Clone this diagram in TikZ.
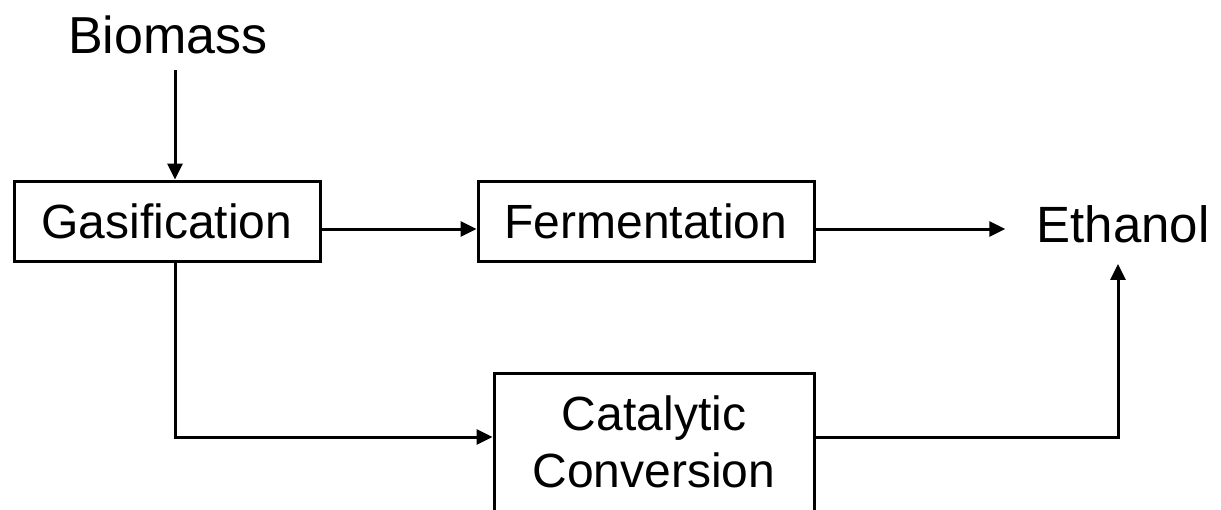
\documentclass[tikz,border=0pt]{standalone}
\usepackage{fontspec}
\setmainfont{Liberation Sans}
\usepackage{tikz}
\usetikzlibrary{arrows.meta, positioning, calc}
\tikzset{
	blk/.style  ={rectangle, draw=black, line width=3pt, align=center, inner sep=0pt, fill=white},
	lbl/.style  ={inner xsep=31pt, inner ysep=17pt},
	sig/.style  ={-{Triangle[length=16pt, width=15pt]}, line width=3pt},
}

\begin{document}
\begin{tikzpicture}[x=1pt, y=-1pt, font=\fontsize{48}{57}\selectfont]
	\useasboundingbox (0,0) rectangle (1221,509);
	% process blocks
	\node[blk, minimum width=306pt, minimum height=80pt] (gas) at (167,221) {Gasification};
	\node[blk, minimum width=336pt, minimum height=80pt] (ferm) at (646,221) {Fermentation};
	\node[blk, minimum width=320pt, minimum height=138pt] (cat) at (654,442) {Catalytic\\Conversion};
	% feed and product
	\node[lbl, inner ysep=16pt, font=\fontsize{52}{60}\selectfont] (bio) at (168,35) {Biomass};
	\node[lbl, inner ysep=21pt, font=\fontsize{51}{60}\selectfont] (eth) at (1123,224) {Ethanol};
	% connection points
	\coordinate (bs) at ([xshift=7pt]bio.south);
	\coordinate (go) at ([yshift=-8pt]gas.east);
	\coordinate (gd) at ([xshift=8pt]gas.south);
	\coordinate (fo) at ([yshift=-8pt]ferm.east);
	\coordinate (ci) at ([yshift=5pt]cat.west);
	\coordinate (co) at ([yshift=5pt]cat.east);
	\coordinate (es) at ([xshift=-5pt]eth.south);
	% flows
	\draw[sig] (bs) -- (bs |- gas.north);
	\draw[sig] (go) -- (go -| ferm.west);
	\draw[sig] (fo) -- (fo -| eth.west);
	\draw[sig] (gd) |- (ci);
	\draw[sig] (co) -| (es);
\end{tikzpicture}
\end{document}
